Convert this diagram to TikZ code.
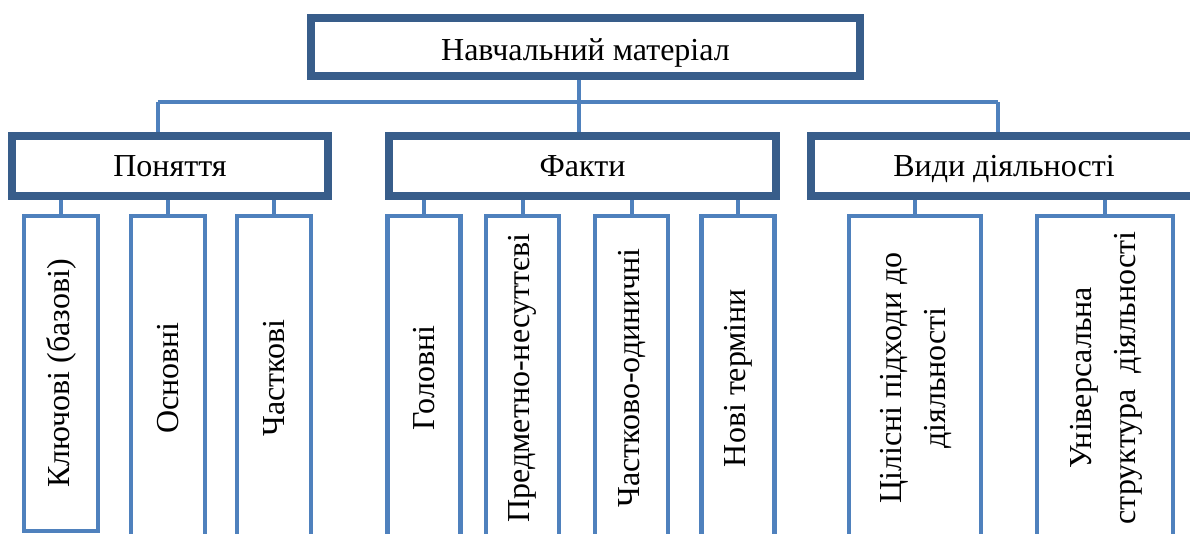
\documentclass[tikz,border=0pt]{standalone}
\usepackage{fontspec}
\setmainfont{Liberation Serif}
\usepackage{graphicx}
\definecolor{darkb}{RGB}{56,93,138}
\definecolor{lightb}{RGB}{79,129,189}
\newcommand\diagfont{\fontsize{32}{44}\selectfont}
\begin{document}
\begin{tikzpicture}[x=1pt,y=-1pt,
  topbox/.style={draw=darkb,line width=8pt,fill=white,inner sep=0pt,
    text height=28pt,text depth=0pt,font=\diagfont,minimum height=58pt},
  midbox/.style={draw=darkb,line width=8pt,fill=white,inner sep=0pt,
    text height=21pt,text depth=0pt,font=\diagfont,minimum height=60pt},
  leafbox/.style={draw=lightb,line width=4.5pt,fill=white,inner sep=0pt,
    font=\diagfont,minimum height=324pt},
  conn/.style={draw=lightb,line width=4pt}]
\useasboundingbox (0,0) rectangle (1190,534);
\clip (0,0) rectangle (1190,534);
% level 1
\node[topbox,minimum width=549pt] (top) at (585.5,47) {Навчальний матеріал};
% level 2
\node[midbox,minimum width=316pt] (pon) at (170,166) {Поняття};
\node[midbox,minimum width=387pt] (fak) at (582.5,166) {Факти};
\node[midbox,minimum width=386pt] (vyd) at (1004,166) {Види діяльності};
% level 3
\node[leafbox,minimum width=74pt,minimum height=315pt] (k1) at (61,373.5) {\rotatebox{90}{Ключові (базові)}};
\node[leafbox,minimum width=74pt] (k2) at (168,378) {\rotatebox{90}{Основні}};
\node[leafbox,minimum width=74pt] (k3) at (274,378) {\rotatebox{90}{Часткові}};
\node[leafbox,minimum width=73pt] (f1) at (424,378) {\rotatebox{90}{Головні}};
\node[leafbox,minimum width=73pt] (f2) at (522.5,378) {\rotatebox{90}{Предметно-несуттєві}};
\node[leafbox,minimum width=73pt] (f3) at (631.5,378) {\rotatebox{90}{Частково-одиничні}};
\node[leafbox,minimum width=73pt] (f4) at (738,378) {\rotatebox{90}{Нові терміни}};
\node[leafbox,minimum width=132pt] (v1) at (915,378) {\rotatebox{90}{\begin{tabular}{@{}c@{}}Цілісні підходи до\\діяльності\end{tabular}}};
\node[leafbox,minimum width=136pt] (v2) at (1105,378) {\rotatebox{90}{\begin{tabular}{@{}c@{}}Універсальна\\структура~ діяльності\end{tabular}}};
% connectors
\coordinate (bl) at (158,102);
\coordinate (br) at (998,102);
\coordinate (tr) at (579,102);
\draw[conn] (bl) -- (br);
\draw[conn] (bl) -- (bl |- pon.north);
\draw[conn] (br) -- (br |- vyd.north);
\draw[conn] (tr |- top.south) -- (tr |- fak.north);
\foreach \c in {k1,k2,k3} \draw[conn] (\c.north) -- (\c.north |- pon.south);
\foreach \c in {f1,f2,f3,f4} \draw[conn] (\c.north) -- (\c.north |- fak.south);
\foreach \c in {v1,v2} \draw[conn] (\c.north) -- (\c.north |- vyd.south);
\end{tikzpicture}
\end{document}
